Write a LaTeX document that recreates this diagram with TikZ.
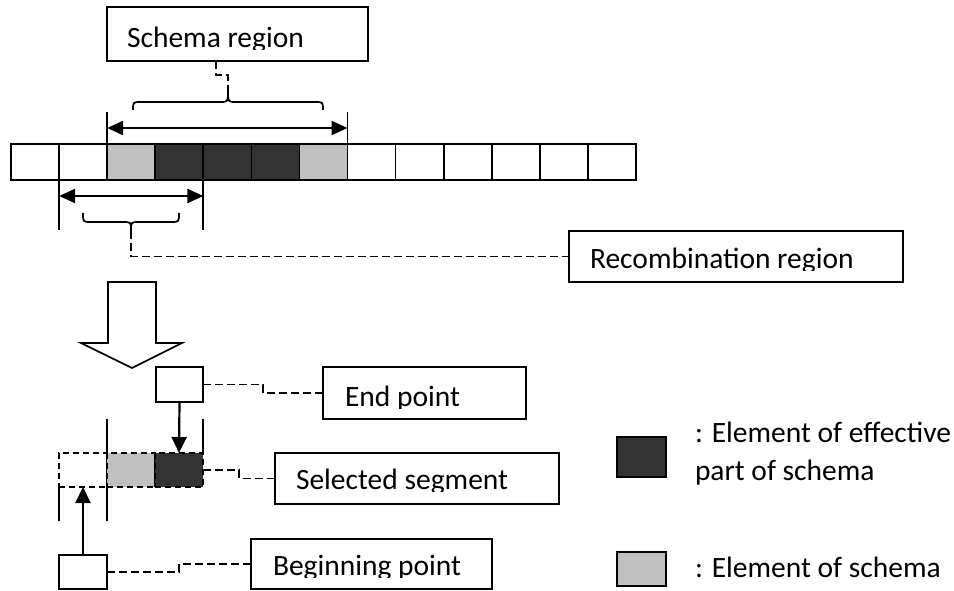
\documentclass[tikz,border=0pt]{standalone}
\usepackage{fontspec}
\setmainfont{Carlito}
\usetikzlibrary{arrows.meta,calc}
\definecolor{darkcell}{HTML}{333333}
\definecolor{lightcell}{HTML}{C0C0C0}
\begin{document}
\begin{tikzpicture}[x=1pt,y=-1pt,
  every node/.style={inner sep=0pt, outer sep=0pt},
  cell/.style={draw, line width=1.7pt, minimum width=48.08pt, minimum height=36pt, anchor=north west},
  segcell/.style={draw, line width=1.5pt, dash pattern=on 6pt off 4pt, minimum width=48pt, minimum height=34pt, anchor=north west},
  labelbox/.style={draw, line width=1.6pt, anchor=north west},
  lbl/.style={anchor=base west, font=\fontsize{29.5}{35}\selectfont},
  leader/.style={line width=1.6pt, dash pattern=on 8pt off 4pt},
  dimline/.style={line width=1.7pt},
  dimarrow/.style={line width=2.2pt, {Triangle[length=16pt,width=14pt]}-{Triangle[length=16pt,width=14pt]}},
  pointer/.style={line width=2.2pt, -{Triangle[length=16pt,width=15pt]}},
  bracepath/.style={line width=1.7pt},
  keybox/.style={draw, line width=1.6pt, minimum width=49pt, anchor=north west},
]
\useasboundingbox (0,0) rectangle (954,591);

% the chromosome: 13 elements
\foreach \i/\f in {1/white,2/white,3/lightcell,4/darkcell,5/darkcell,6/darkcell,
                   7/lightcell,8/white,9/white,10/white,11/white,12/white,13/white}
  \node[cell, fill=\f] (c\i) at ({11+48.08*(\i-1)},144) {};

% schema region dimension and brace
\draw[dimline] (c3.north west) -- ++(0,-32);
\draw[dimline] (c7.north east) -- ++(0,-32);
\path (c3.north west) ++(0,-16) coordinate (sa);
\path (c7.north east) ++(0,-16) coordinate (sb);
\draw[dimarrow] (sa) -- (sb);
\draw[bracepath] (133,110) .. controls (133,102) .. (141,102) -- (220,102)
  .. controls (228,102) .. (228,91) coordinate (stip)
  .. controls (228,102) .. (236,102) -- (315,102) .. controls (323,102) .. (323,110);

% recombination region dimension and brace
\draw[dimline] (c2.south west) -- ++(0,50);
\draw[dimline] (c4.south east) -- ++(0,50);
\path (c2.south west) ++(0,16) coordinate (ra);
\path (c4.south east) ++(0,16) coordinate (rb);
\draw[dimarrow] (ra) -- (rb);
\draw[bracepath] (83,213) .. controls (83,222) .. (91,222) -- (123,222)
  .. controls (131,222) .. (131,231) coordinate (rtip)
  .. controls (131,222) .. (139,222) -- (171,222) .. controls (179,222) .. (179,213);

% label boxes
\node[labelbox, minimum width=261pt, minimum height=54pt] (schemabox) at (107,7) {};
\begin{scope}\clip (107,7) rectangle (368,49.5);
  \node[lbl] (schematext) at (127,48) {Schema region};
\end{scope}
\node[labelbox, minimum width=334pt, minimum height=51pt] (recbox) at (569,231) {};
\begin{scope}\clip (569,231) rectangle (903,270);
  \node[lbl] (rectext) at (590,268) {Recombination region};
\end{scope}

% leaders to the braces
\draw[leader] ($(schemabox.south west)+(109,0)$) |- ($(stip)+(0,-16)$) -- (stip);
\draw[leader] (rtip) |- (recbox.west);

% hollow block arrow
\draw[line width=1.7pt, fill=white] (108,282) -- (156,282) -- (156,343) -- (182,343)
  -- (132,368) -- (81,343) -- (108,343) -- cycle;

% selected segment
\node[segcell, fill=white] (s1) at (59,453) {};
\node[segcell, fill=lightcell] (s2) at (107,453) {};
\node[segcell, fill=darkcell] (s3) at (155,453) {};
\draw[dimline] (s2.north west) -- ++(0,-34);
\draw[dimline] (s3.north east) -- ++(0,-34);
\draw[dimline] (s1.south west) -- ++(0,34);
\draw[dimline] (s1.south east) -- ++(0,34);

% end and beginning points
\node[labelbox, minimum width=47pt, minimum height=35pt] (ep) at (156,367) {};
\node[labelbox, minimum width=48pt, minimum height=34pt] (bp) at (59,555) {};
\draw[pointer] (ep.south) -- (s3.north);
\draw[pointer] (bp.north) -- (s1.south);

\node[labelbox, minimum width=203pt, minimum height=52pt] (epbox) at (323,367) {};
\begin{scope}\clip (323,367) rectangle (526,408);
  \node[lbl] (eptext) at (345,406) {End point};
\end{scope}
\node[labelbox, minimum width=284pt, minimum height=51pt] (selbox) at (275,453) {};
\begin{scope}\clip (275,453) rectangle (559,491.5);
  \node[lbl] (seltext) at (296,489) {Selected segment};
\end{scope}
\node[labelbox, minimum width=241pt, minimum height=50pt] (bpbox) at (251,539) {};
\begin{scope}\clip (251,539) rectangle (492,577);
  \node[lbl] (bptext) at (273,575) {Beginning point};
\end{scope}

\coordinate (m1) at ($(ep.east)!0.5!(epbox.west)$);
\draw[leader] (ep.east) -| (m1) |- (epbox.west);
\coordinate (m2) at ($(s3.east)!0.5!(selbox.west)$);
\draw[leader] (s3.east) -| (m2) |- (selbox.west);
\coordinate (m3) at ($(bp.east)!0.5!(bpbox.west)$);
\draw[leader] (bp.east) -| (m3) |- (bpbox.west);

% key
\node[keybox, fill=darkcell, minimum height=40pt] (keydark) at (617,437) {};
\node[lbl] (keydarktext1) at (695,442) {: Element of effective};
\node[lbl] (keydarktext2) at (695,480) {part of schema};
\node[keybox, fill=lightcell, minimum height=34pt] (keylight) at (617,552) {};
\node[lbl] (keylighttext) at (695,577) {: Element of schema};
\end{tikzpicture}
\end{document}
